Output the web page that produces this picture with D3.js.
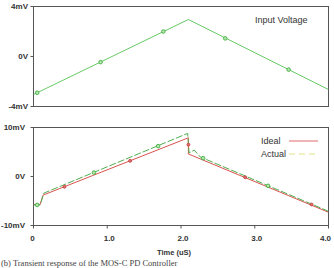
<!DOCTYPE html>
<html>
<head>
<meta charset="utf-8">
<script src="https://cdn.jsdelivr.net/npm/d3@7"></script>
<style>
  body { margin: 0; background: #fff; }
  svg { display: block; }
  .tick-label { font-family: "Liberation Sans", Arial, sans-serif; font-weight: bold; font-size: 8px; fill: #333; }
</style>
</head>
<body>
<svg class="chart"></svg>
<script>
// time in uS, values in mV
const inputVoltage = [[0, -3.04], [2.1, 2.96], [4, -2.64]];
const inputMarks = [[0.05, -2.9], [0.91, -0.45], [1.76, 2.0], [2.6, 1.45], [3.46, -1.05]];

const ideal = [[0, -5.7], [0.09, -5.7], [0.13, -3.8], [2.1, 7.9], [2.1, 4.6], [4, -7.3]];
const idealMarks = [[0.42, -2.1], [1.31, 3.2], [2.1, 6.5], [2.87, -0.15], [3.77, -5.7]];

const actual = [[0, -5.8], [0.09, -5.8], [0.14, -3.4], [2.09, 8.8], [2.11, 4.8], [2.18, 5.4], [2.26, 4.0], [4, -7.1]];
const actualMarks = [[0.05, -5.8], [0.82, 0.8], [1.69, 6.2], [2.3, 3.75], [3.18, -1.9]];

const timeTicks = [0, 1, 2, 3, 4];
const timeLabels = ["0", "1.0", "2.0", "3.0", "4.0"];
const topTicks = [4, 0, -4];
const topLabels = ["4mV", "0V", "-4mV"];
const bottomTicks = [10, 0, -10];
const bottomLabels = ["10mV", "0V", "-10mV"];

const width = 334, height = 268;
const svg = d3.select(".chart").attr("width", width).attr("height", height);

const x = d3.scaleLinear().domain([0, 4]).range([33.5, 328.5]);
const yTop = d3.scaleLinear().domain([-4, 4]).range([106.5, 6.5]);
const yBot = d3.scaleLinear().domain([-10, 10]).range([225.5, 127.5]);

function panel(y, id) {
    const g = svg.append("g");
    const [y0, y1] = y.range();
    svg.append("clipPath").attr("id", id)
        .append("rect").attr("x", x(0)).attr("y", y1)
        .attr("width", x(4) - x(0)).attr("height", y0 - y1);
    g.append("rect")
        .attr("x", x(0)).attr("y", y1)
        .attr("width", x(4) - x(0)).attr("height", y0 - y1)
        .attr("fill", "none").attr("stroke", "#555").attr("stroke-width", 1);
    return g;
}

function drawLine(g, data, y, color, dash, clipId) {
    const line = d3.line().x(d => x(d[0])).y(d => y(d[1]));
    g.append("path")
        .datum(data)
        .attr("clip-path", `url(#${clipId})`)
        .attr("d", line)
        .attr("fill", "none")
        .attr("stroke", color)
        .attr("stroke-width", 1)
        .attr("stroke-dasharray", dash);
}

function drawMarks(g, data, y, color) {
    g.selectAll(null).data(data).enter().append("circle")
        .attr("cx", d => x(d[0]))
        .attr("cy", d => y(d[1]))
        .attr("r", 1.8)
        .attr("fill", "#b6e6b0")
        .attr("stroke", color)
        .attr("stroke-width", 0.9);
}

function yAxis(g, y, ticks, labels, labelX) {
    g.selectAll(null).data(ticks).enter().append("line")
        .attr("x1", x(0) - 3).attr("x2", x(0))
        .attr("y1", d => y(d)).attr("y2", d => y(d))
        .attr("stroke", "#555");
    g.selectAll(null).data(ticks).enter().append("text")
        .attr("class", "tick-label")
        .attr("x", labelX)
        .attr("y", d => y(d))
        .attr("dy", "0.35em")
        .attr("text-anchor", "end")
        .text((d, i) => labels[i]);
}

// top panel: input voltage
const topPanel = panel(yTop, "clipTop");
drawLine(topPanel, inputVoltage, yTop, "#66c966", null, "clipTop");
drawMarks(topPanel, inputMarks, yTop, "#3fae3f");
yAxis(topPanel, yTop, topTicks, topLabels, 28);
topPanel.append("text")
    .attr("x", 255).attr("y", 23)
    .style("font-family", "Liberation Sans, Arial, sans-serif")
    .style("font-size", "9px").style("fill", "#333")
    .text("Input Voltage");

// bottom panel: ideal vs actual
const botPanel = panel(yBot, "clipBot");
drawLine(botPanel, ideal, yBot, "#d9534f", null, "clipBot");
drawLine(botPanel, actual, yBot, "#4fae4f", "7,2", "clipBot");
botPanel.selectAll(null).data(idealMarks).enter().append("circle")
    .attr("cx", d => x(d[0])).attr("cy", d => yBot(d[1]))
    .attr("r", 1.5).attr("fill", "#e07070").attr("stroke", "#c03030").attr("stroke-width", 0.7);
drawMarks(botPanel, actualMarks, yBot, "#3fae3f");
yAxis(botPanel, yBot, bottomTicks, bottomLabels, 25);

botPanel.selectAll(null).data(timeTicks).enter().append("line")
    .attr("x1", d => x(d)).attr("x2", d => x(d))
    .attr("y1", yBot(-10)).attr("y2", yBot(-10) + 3)
    .attr("stroke", "#555");
botPanel.selectAll(null).data(timeTicks).enter().append("text")
    .attr("class", "tick-label")
    .attr("x", (d, i) => x(d) + (i === 0 ? -1 : (i === 4 ? -3 : 2)))
    .attr("y", 241)
    .attr("text-anchor", "middle")
    .text((d, i) => timeLabels[i]);
botPanel.append("text")
    .attr("class", "tick-label")
    .attr("x", 174).attr("y", 255)
    .attr("text-anchor", "middle")
    .style("font-size", "7.5px")
    .text("Time (uS)");

// legend
const legendItems = [
    { name: "Ideal", color: "#e88080", dash: null },
    { name: "Actual", color: "#dfe38a", dash: "6,4" }
];
const legend = botPanel.selectAll(".legend").data(legendItems).enter().append("g")
    .attr("class", "legend")
    .attr("transform", (d, i) => `translate(261,${141 + i * 13})`);
legend.append("text")
    .attr("y", 0).attr("dy", "0.35em")
    .style("font-family", "Liberation Sans, Arial, sans-serif")
    .style("font-size", "9px").style("fill", "#333")
    .text(d => d.name);
legend.append("line")
    .attr("x1", 28).attr("x2", 57)
    .attr("stroke", d => d.color)
    .attr("stroke-width", 1.2)
    .attr("stroke-dasharray", d => d.dash);

// caption at the bottom edge
svg.append("text")
    .attr("x", 1).attr("y", 266)
    .style("font-family", "Liberation Serif, Times New Roman, serif")
    .style("font-size", "8.5px").style("fill", "#444")
    .text("(b) Transient response of the MOS-C PD Controller");
</script>
</body>
</html>
